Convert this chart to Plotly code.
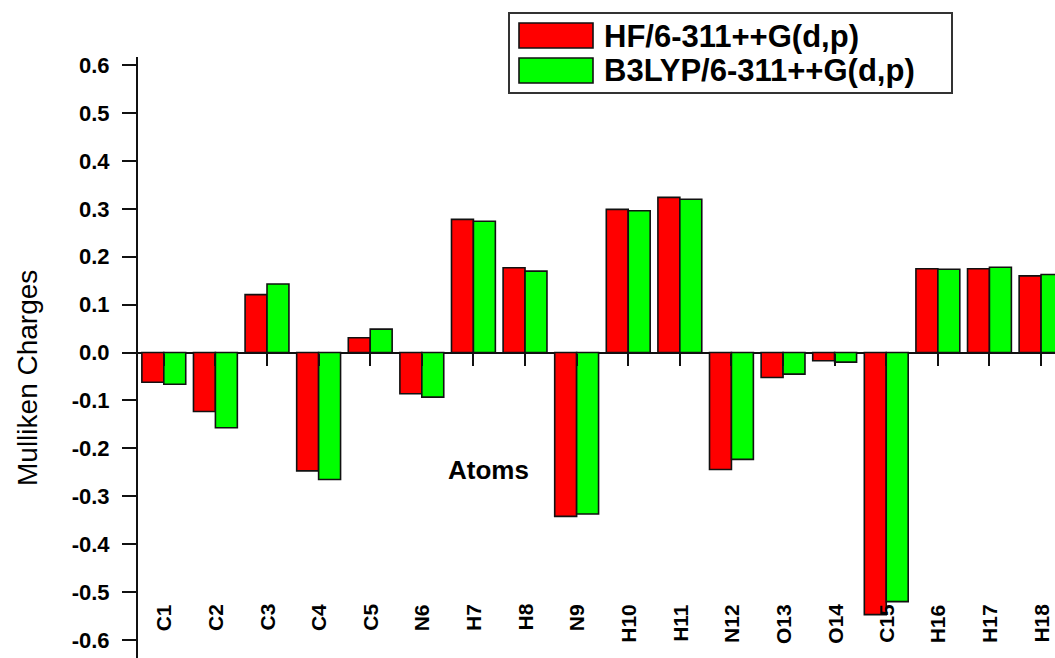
import plotly.graph_objects as go

# Mulliken atomic charges for each atom, two levels of theory
atoms = ["C1", "C2", "C3", "C4", "C5", "N6", "H7", "H8", "N9",
         "H10", "H11", "N12", "O13", "O14", "C15", "H16", "H17", "H18"]
hf_charges = [-0.062, -0.123, 0.121, -0.247, 0.031, -0.086, 0.278, 0.177, -0.342,
              0.299, 0.324, -0.244, -0.052, -0.017, -0.547, 0.175, 0.175, 0.160]
b3lyp_charges = [-0.066, -0.157, 0.143, -0.265, 0.049, -0.093, 0.274, 0.170, -0.337,
                 0.296, 0.320, -0.223, -0.045, -0.020, -0.520, 0.174, 0.178, 0.163]
series_names = ["HF/6-311++G(d,p)", "B3LYP/6-311++G(d,p)"]
series_colors = ["#ff0000", "#00ff00"]
y_ticks = [0.6, 0.5, 0.4, 0.3, 0.2, 0.1, 0.0, -0.1, -0.2, -0.3, -0.4, -0.5, -0.6]

W, H = 1055, 658
ML, MT = 138, 57
PW, PH = W - ML, H - MT
Y_RANGE = [-0.6376, 0.617]
X_RANGE = [-0.5, 17.27]
FONT = "Arial, Liberation Sans, sans-serif"


def px_x(px):
    return (px - ML) / PW


def px_y(py):
    return 1 - (py - MT) / PH


fig = go.Figure()
for name, vals, col in zip(series_names, [hf_charges, b3lyp_charges], series_colors):
    fig.add_trace(go.Bar(
        x=atoms, y=vals, name=name,
        marker=dict(color=col, line=dict(color="#111111", width=1.6)),
        showlegend=False,
    ))

# the category axis crosses the value axis at zero
zero_pos = (0 - Y_RANGE[0]) / (Y_RANGE[1] - Y_RANGE[0])

fig.update_layout(
    width=W, height=H,
    margin=dict(l=ML, r=0, t=MT, b=0, pad=0),
    paper_bgcolor="white", plot_bgcolor="white",
    barmode="group", bargap=0.15, bargroupgap=0.0,
    font=dict(family=FONT, color="black"),
    xaxis=dict(
        type="category", categoryorder="array", categoryarray=atoms,
        range=X_RANGE, showline=False, showgrid=False, zeroline=False,
        ticks="outside", ticklen=12, tickwidth=2, tickcolor="#111111",
        showticklabels=False, anchor="free", position=zero_pos,
    ),
    yaxis=dict(
        range=Y_RANGE, tickvals=y_ticks,
        ticktext=[f"{v:.1f}" for v in y_ticks],
        showline=True, linecolor="#111111", linewidth=2,
        ticks="outside", ticklen=14, tickwidth=2, tickcolor="#111111",
        showgrid=False, zeroline=True, zerolinecolor="#111111", zerolinewidth=2,
        tickfont=dict(size=22, family=FONT, weight="bold", color="black"),
        ticklabelstandoff=8,
    ),
)

# atom labels, rotated, near the foot of the plot
for atom in atoms:
    fig.add_annotation(text=atom, xref="x", yref="paper", x=atom, y=px_y(602),
                       xanchor="center", yanchor="top", textangle=-90,
                       showarrow=False,
                       font=dict(size=21, family=FONT, weight="bold", color="black"))

# axis titles
fig.add_annotation(text="Mulliken Charges", xref="paper", yref="paper",
                   x=px_x(27), y=px_y(378), xanchor="center", yanchor="middle",
                   showarrow=False, textangle=-90,
                   font=dict(size=28, family=FONT, color="black"))
fig.add_annotation(text="Atoms", xref="paper", yref="paper",
                   x=px_x(488), y=px_y(470), xanchor="center", yanchor="middle",
                   showarrow=False,
                   font=dict(size=26, family=FONT, weight="bold", color="black"))

# legend box
fig.add_shape(type="rect", xref="paper", yref="paper",
              x0=px_x(509), x1=px_x(952), y0=px_y(93), y1=px_y(13),
              line=dict(color="#333333", width=2), fillcolor="white", layer="above")
for i, (name, col) in enumerate(zip(series_names, series_colors)):
    top = 23 + i * 35
    fig.add_shape(type="rect", xref="paper", yref="paper",
                  x0=px_x(519), x1=px_x(593), y0=px_y(top + 25), y1=px_y(top),
                  line=dict(color="#111111", width=1.6), fillcolor=col, layer="above")
    fig.add_annotation(text=name, xref="paper", yref="paper",
                       x=px_x(602), y=px_y(top + 13), xanchor="left", yanchor="middle",
                       showarrow=False,
                       font=dict(size=31, family=FONT, weight="bold", color="black"))

fig.write_html("out.html")
